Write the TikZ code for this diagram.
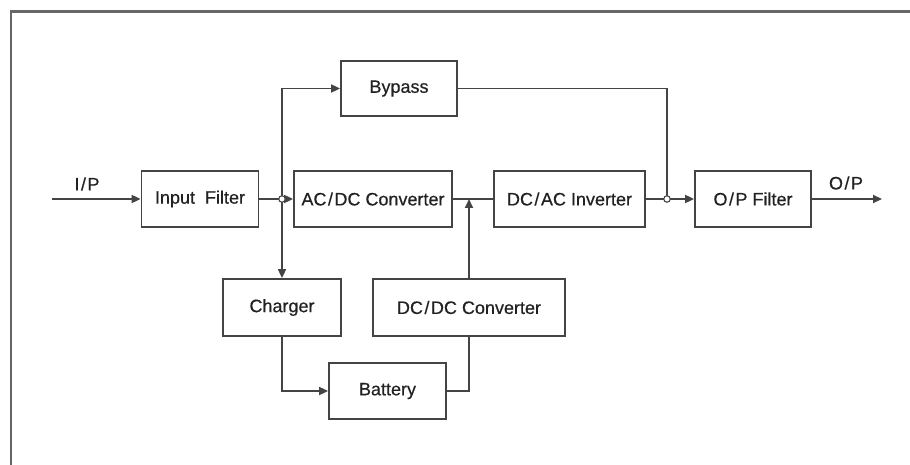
\documentclass[tikz,border=0pt]{standalone}
\usepackage{fontspec}
\setmainfont{Liberation Sans}
\newfontfamily\lblfont{Liberation Sans}[FakeBold=0.5]
\usetikzlibrary{arrows.meta}
\definecolor{ln}{HTML}{444444}
\definecolor{fr}{HTML}{666666}
\definecolor{tx}{HTML}{222222}
\newcommand{\slsep}{\kern1.5pt/\kern1.5pt}
\tikzset{
  blk/.style={draw=ln, line width=1.8pt, rectangle, inner sep=0pt, text=tx,
    font=\fontsize{18}{22}\lblfont, minimum height=56pt},
  wire/.style={draw=ln, line width=1.8pt},
  arr/.style={wire, -{Triangle[length=9pt,width=8pt]}},
  jn/.style={circle, draw=ln, fill=white, line width=1.1pt, inner sep=0pt, minimum size=6.5pt},
  lbl/.style={text=tx, font=\fontsize{18}{22}\lblfont, inner sep=0pt}
}
\begin{document}
\begin{tikzpicture}[x=1pt,y=-1pt]
\useasboundingbox (0,0) rectangle (910,465);
% frame
\draw[fr, line width=2.2pt] (11,465) -- (11,11.5) -- (910,11.5);
% blocks
\node[blk, minimum width=116pt, minimum height=55pt] (bypass) at (399,88.5) {Bypass};
\node[blk, minimum width=117pt] (inf) at (200,199) {Input\ \ Filter};
\node[blk, minimum width=158pt] (acdc) at (373,199) {AC\slsep DC Converter};
\node[blk, minimum width=151pt] (dcac) at (569.5,199) {DC\slsep AC Inverter};
\node[blk, minimum width=116pt] (opf) at (753,199) {O\slsep P Filter};
\node[blk, minimum width=118pt, minimum height=57pt] (charger) at (282,307.5) {Charger};
\node[blk, minimum width=192pt, minimum height=57pt] (dcdc) at (469,307.5) {DC\slsep DC Converter};
\node[blk, minimum width=117pt] (battery) at (387.5,391) {Battery};
% coordinates
\coordinate (ip) at (52,199);
\coordinate (op) at (882,199);
\coordinate (j1) at (282,199);
\coordinate (j2) at (667,199);
\coordinate (mid) at (469,199);
\coordinate (byl) at (282,88.5);
\coordinate (byr) at (667,88.5);
\coordinate (cb) at (282,391);
\coordinate (bd) at (469,391);
% labels
\node[lbl] (iplbl) at (87,184) {I\slsep P};
\node[lbl] (oplbl) at (846,183) {O\slsep P};
% wires
\draw[arr] (ip) -- (inf.west);
\draw[wire] (inf.east) -- (j1);
\draw[arr] (j1) -- (acdc.west);
\draw[arr] (byl) -- (bypass.west);
\draw[wire] (byl) -- (j1);
\draw[arr] (j1) -- (charger.north);
\draw[wire] (acdc.east) -- (dcac.west);
\draw[arr] (dcdc.north) -- (mid);
\draw[wire] (dcac.east) -- (j2);
\draw[arr] (j2) -- (opf.west);
\draw[wire] (bypass.east) -- (byr) -- (j2);
\draw[arr] (opf.east) -- (op);
\draw[arr] (charger.south) -- (cb) -- (battery.west);
\draw[wire] (battery.east) -- (bd) -- (dcdc.south);
% junctions
\node[jn] (c1) at (j1) {};
\node[jn] (c2) at (j2) {};
\end{tikzpicture}
\end{document}
